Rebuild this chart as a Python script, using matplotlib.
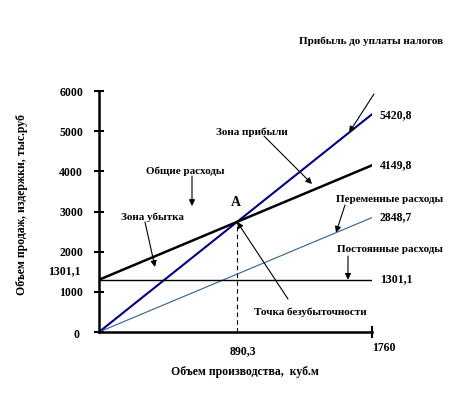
import numpy as np
import matplotlib.pyplot as plt

# данные графика безубыточности
x_max = 1760
x_be = 890.3
revenue_end = 5420.8
total_end = 4149.8
variable_end = 2848.7
fixed = 1301.1
y_ticks = [0, 1000, 2000, 3000, 4000, 5000, 6000]

x = np.array([0, x_max])
revenue = np.array([0, revenue_end])
total = np.array([fixed, total_end])
variable = np.array([0, variable_end])
fixed_line = np.array([fixed, fixed])
y_be = revenue_end / x_max * x_be

W, H = 458, 399
plt.rcParams['font.family'] = ['Liberation Serif', 'DejaVu Serif']
plt.rcParams['font.weight'] = 'bold'
plt.rcParams['font.size'] = 8.5

fig = plt.figure(figsize=(W / 100, H / 100), dpi=100)
ax = fig.add_axes([99 / W, 1 - 332 / H, 273 / W, 241 / H])


def px(a, b):
    # пиксели картинки -> доли фигуры
    return (a / W, 1 - b / H)


ax.plot(x, revenue, color='#000080', lw=1.5)
ax.plot(x, total, color='black', lw=1.8)
ax.plot(x, variable, color='#2f6090', lw=0.8)
ax.plot(x, fixed_line, color='black', lw=1.0)
ax.plot([x_be, x_be], [0, y_be], color='black', lw=0.8, ls=(0, (4, 3)))

ax.set_xlim(0, x_max)
ax.set_ylim(0, 6000)
ax.spines['top'].set_visible(False)
ax.spines['right'].set_visible(False)
ax.spines['left'].set_linewidth(1.8)
ax.spines['bottom'].set_linewidth(1.8)
ax.set_yticks(y_ticks)
ax.set_yticklabels(['' if v == 0 else str(v) for v in y_ticks])
ax.tick_params(axis='y', direction='inout', length=7, width=1.5, pad=8)
ax.set_xticks([x_max])
ax.set_xticklabels([''])
ax.tick_params(axis='x', direction='inout', length=8, width=1.5)

fig.text(*px(80, 335), '0', ha='right', va='center')
fig.text(*px(81, 271), '1301,1', ha='right', va='center')
fig.text(*px(243, 351), '890,3', ha='center', va='center')
fig.text(*px(384, 348), '1760', ha='center', va='center')
fig.text(*px(380, 115), '5420,8', ha='left', va='center')
fig.text(*px(380, 165), '4149,8', ha='left', va='center')
fig.text(*px(380, 217), '2848,7', ha='left', va='center')
fig.text(*px(380, 279), '1301,1', ha='left', va='center')
fig.text(*px(236, 203), 'A', ha='center', va='center', fontsize=10)

fig.text(*px(245, 372), 'Объем производства,  куб.м', ha='center', va='center')
fig.text(*px(22, 205), 'Объем продаж, издержки, тыс.руб', ha='center', va='center',
         rotation=90)

arrow = dict(arrowstyle='-|>', color='black', lw=0.8, mutation_scale=9,
             shrinkA=0, shrinkB=0)
ff = 'figure fraction'

fig.text(*px(443, 41), 'Прибыль до уплаты налогов', ha='right', va='center',
         fontsize=8)
xp = 1612
ax.annotate('', xy=(xp, revenue_end / x_max * xp), xytext=px(374, 94),
            textcoords=ff, arrowprops=arrow)

fig.text(*px(252, 132), 'Зона прибыли', ha='center', va='center', fontsize=8)
ax.annotate('', xy=px(312, 184), xycoords=ff, xytext=px(264, 136),
            textcoords=ff, arrowprops=arrow)

fig.text(*px(185, 171), 'Общие расходы', ha='center', va='center', fontsize=8)
ax.annotate('', xy=px(192, 206), xycoords=ff, xytext=px(192, 176),
            textcoords=ff, arrowprops=arrow)

fig.text(*px(152, 217), 'Зона убытка', ha='center', va='center', fontsize=8)
ax.annotate('', xy=px(155, 267), xycoords=ff, xytext=px(145, 222),
            textcoords=ff, arrowprops=arrow)

fig.text(*px(390, 200), 'Переменные расходы', ha='center', va='center', fontsize=8)
xv = 1528
ax.annotate('', xy=(xv, variable_end / x_max * xv), xytext=px(345, 205),
            textcoords=ff, arrowprops=arrow)

fig.text(*px(390, 249), 'Постоянные расходы', ha='center', va='center', fontsize=8)
ax.annotate('', xy=(1605, fixed), xytext=px(348, 256),
            textcoords=ff, arrowprops=arrow)

fig.text(*px(310, 312), 'Точка безубыточности', ha='center', va='center', fontsize=8)
ax.annotate('', xy=(x_be, y_be), xytext=px(288, 299),
            textcoords=ff, arrowprops=arrow)

fig.savefig('out.png', dpi=100)
